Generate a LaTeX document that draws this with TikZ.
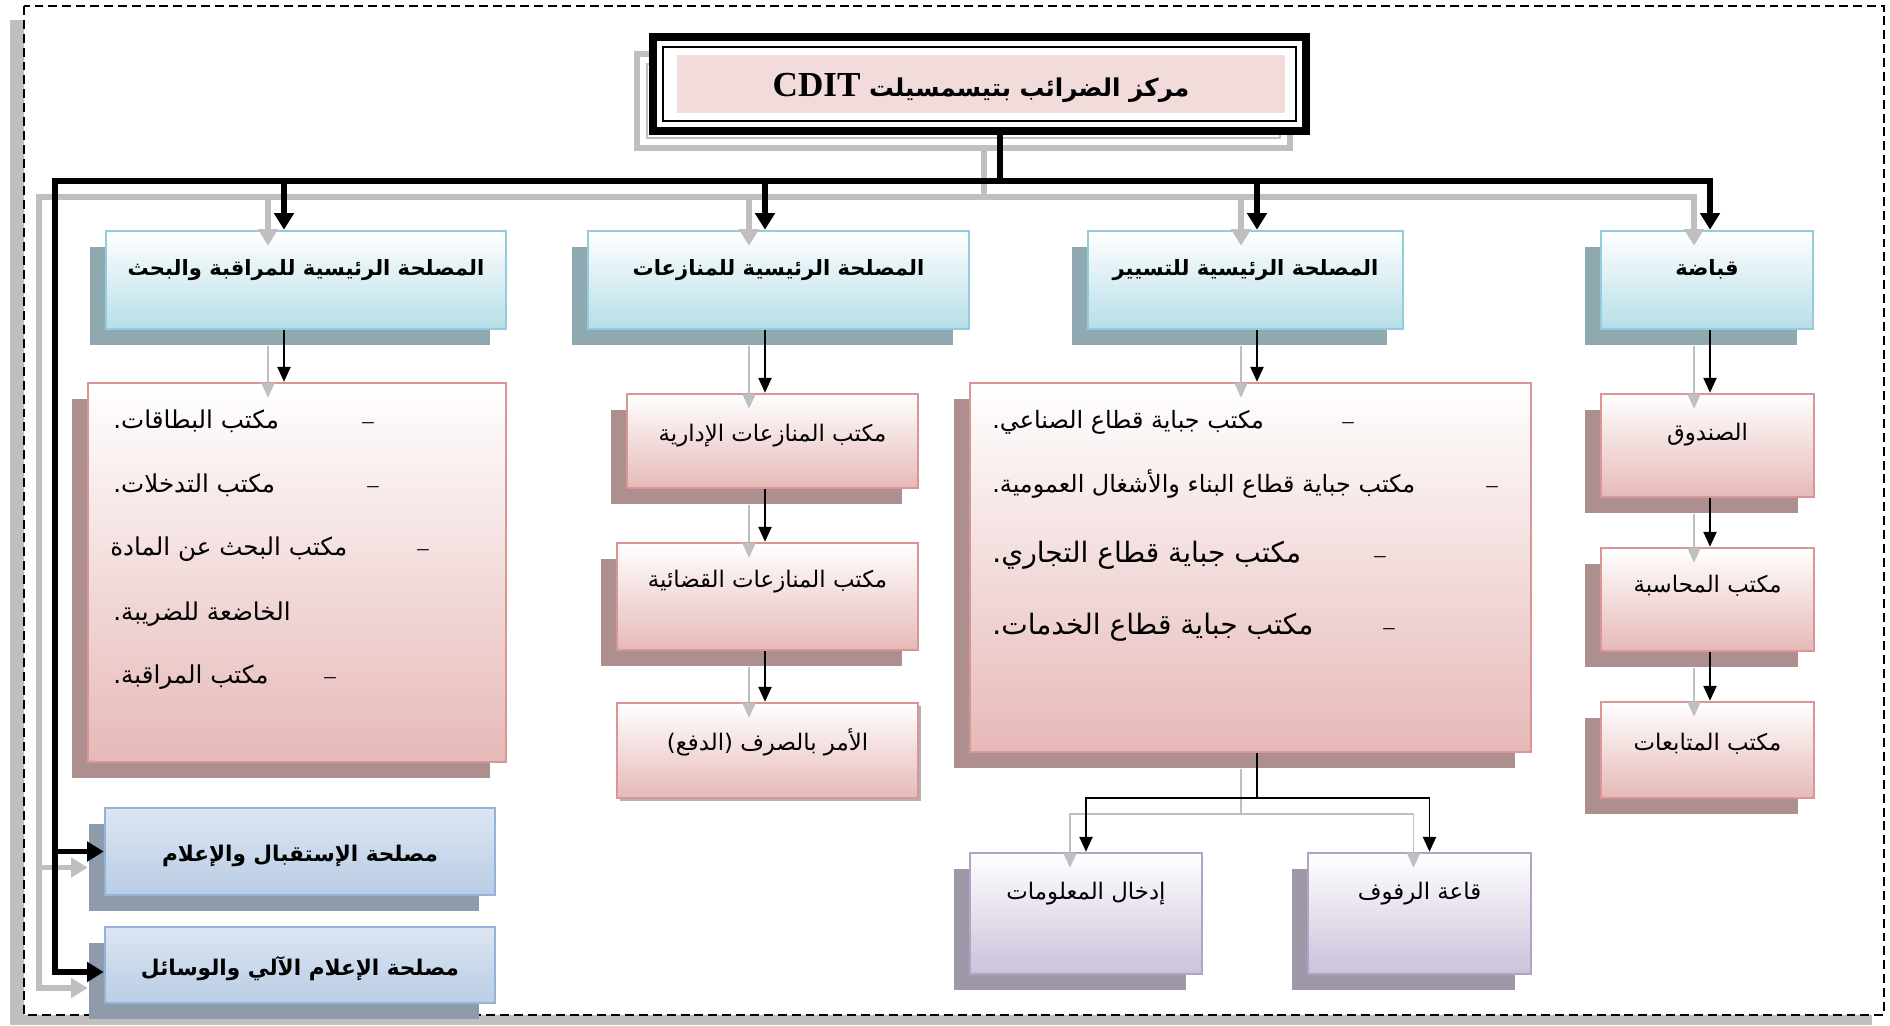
\documentclass[tikz,border=0pt]{standalone}
\usepackage{fontspec}
\setmainfont{Liberation Serif}
\newfontfamily\arabicfont[Script=Arabic]{DejaVu Sans}
\TeXXeTstate=1
\usepackage{tikz}
\usetikzlibrary{arrows.meta,shadows}
\definecolor{lvlborder}{HTML}{93CDDD}
\definecolor{lvlbottom}{HTML}{B7DEE8}
\definecolor{lvlshadow}{HTML}{8FA9B0}
\definecolor{pkborder}{HTML}{D99694}
\definecolor{pkbottom}{HTML}{E6B9B8}
\definecolor{pkshadow}{HTML}{AD8F8F}
\definecolor{prborder}{HTML}{B3A2C7}
\definecolor{prbottom}{HTML}{CCC1DA}
\definecolor{prshadow}{HTML}{9E98A8}
\definecolor{svborder}{HTML}{95B3D7}
\definecolor{svtop}{HTML}{DCE6F2}
\definecolor{svbottom}{HTML}{B9CDE5}
\definecolor{svshadow}{HTML}{8E9BAB}
\definecolor{connshadow}{HTML}{BFBFBF}
\definecolor{titlepink}{HTML}{F2DCDB}
\tikzstyle{titlebox} = [fill=titlepink, inner sep=0pt, minimum width=12.16cm, minimum height=1.16cm,
  text height=0.64cm, text depth=0.16cm, font=\arabicfont\bfseries\fontsize{14}{17}\selectfont]
\tikzstyle{headbox} = [draw=lvlborder, line width=1.5pt, top color=white, bottom color=lvlbottom,
  inner sep=0pt, text height=0.4cm, text depth=0.6cm, font=\arabicfont\bfseries\fontsize{12}{14}\selectfont,
  drop shadow={shadow xshift=-0.32cm,shadow yshift=-0.32cm,fill=lvlshadow,opacity=1}]
\tikzstyle{officeflat} = [draw=pkborder, line width=1.5pt, top color=white, bottom color=pkbottom,
  inner sep=0pt, text height=0.4cm, text depth=0.4cm, font=\arabicfont\fontsize{13}{15}\selectfont]
\tikzstyle{officebox} = [officeflat,
  drop shadow={shadow xshift=-0.32cm,shadow yshift=-0.32cm,fill=pkshadow,opacity=1}]
\tikzstyle{entrybox} = [draw=prborder, line width=1.5pt, top color=white, bottom color=prbottom,
  inner sep=0pt, text height=0.4cm, text depth=0.98cm, font=\arabicfont\fontsize{13}{15}\selectfont,
  drop shadow={shadow xshift=-0.32cm,shadow yshift=-0.32cm,fill=prshadow,opacity=1}]
\tikzstyle{servbox} = [draw=svborder, line width=1.5pt, top color=svtop, bottom color=svbottom,
  inner sep=0pt, text height=0.8cm, text depth=0.4cm, font=\arabicfont\bfseries\fontsize{12.3}{15}\selectfont,
  drop shadow={shadow xshift=-0.32cm,shadow yshift=-0.32cm,fill=svshadow,opacity=1}]
\tikzstyle{entry} = [anchor=base west, inner sep=0pt]
\tikzstyle{bullet} = [anchor=base, inner sep=0pt, font=\fontsize{13}{15}\selectfont]
\tikzstyle{trunk} = [line width=3.2pt]
\tikzstyle{trunkarrow} = [line width=3.2pt,->,>={Triangle[width=11pt,length=9.5pt]}]
\tikzstyle{twig} = [line width=1.1pt]
\tikzstyle{twigarrow} = [line width=1.1pt,->,>={Triangle[width=7.5pt,length=8.5pt]}]

\begin{document}
\begin{tikzpicture}[x=0.02cm,y=-0.02cm]
\useasboundingbox (0,0) rectangle (1890,1025);

% dashed frame and its shadow
\fill[connshadow] (10,20) rectangle (1872,1025);
\draw[line width=1.5pt, dash pattern=on 5.1pt off 2.8pt, fill=white] (24,6) rectangle (1884,1015);

% title with double border
\draw[connshadow, line width=3.4pt] (637,54) rectangle (1290,148);
\draw[connshadow, line width=1pt] (647,64) rectangle (1280,138);
\draw[line width=4.5pt, fill=white] (653,37) rectangle (1306,131);
\draw[line width=1.2pt] (663,47) rectangle (1296,121);
\node[titlebox] (title) at (981,84) {\beginR مركز الضرائب بتيسمسيلت {\rmfamily\fontsize{20}{24}\selectfont\beginL CDIT\endL}\endR};

% main services
\node[headbox, minimum width=8cm, minimum height=1.96cm] (A) at (306,280) {\beginR المصلحة الرئيسية للمراقبة والبحث\endR};
\node[headbox, minimum width=7.62cm, minimum height=1.96cm] (B) at (778.5,280) {\beginR المصلحة الرئيسية للمنازعات\endR};
\node[headbox, minimum width=6.3cm, minimum height=1.96cm] (C) at (1245.5,280) {\beginR المصلحة الرئيسية للتسيير\endR};
\node[headbox, minimum width=4.24cm, minimum height=1.96cm] (D) at (1707,280) {\beginR قباضة\endR};

% offices
\node[officebox, minimum width=8.36cm, minimum height=7.58cm] (Alist) at (297,572.5) {};
\node[officebox, minimum width=5.82cm, minimum height=1.88cm] (B1) at (772.5,441) {\beginR مكتب المنازعات الإدارية\endR};
\node[officebox, minimum width=6.02cm, minimum height=2.14cm, text depth=0.78cm] (B2) at (767.5,596.5) {\beginR مكتب المنازعات القضائية\endR};
\node[officeflat, minimum width=6.02cm, minimum height=1.9cm,
  drop shadow={shadow xshift=0.06cm,shadow yshift=-0.06cm,fill=gray!60,opacity=1}] (B3) at (767.5,750.5) {\beginR الأمر بالصرف (الدفع)\endR};
\node[officebox, minimum width=11.22cm, minimum height=7.38cm] (Clist) at (1250.5,567.5) {};
\node[officebox, minimum width=4.26cm, minimum height=2.06cm, text depth=0.62cm] (D1) at (1707.5,445.5) {\beginR الصندوق\endR};
\node[officebox, minimum width=4.26cm, minimum height=2.06cm, text depth=0.7cm] (D2) at (1707.5,599.5) {\beginR مكتب المحاسبة\endR};
\node[officebox, minimum width=4.26cm, minimum height=1.92cm] (D3) at (1707.5,750) {\beginR مكتب المتابعات\endR};
\node[entrybox, minimum width=4.64cm, minimum height=2.42cm] (P1) at (1086,913.5) {\beginR إدخال المعلومات\endR};
\node[entrybox, minimum width=4.46cm, minimum height=2.42cm] (P2) at (1419.5,913.5) {\beginR قاعة الرفوف\endR};
\node[servbox, minimum width=7.8cm, minimum height=1.74cm] (E1) at (300,851.5) {\beginR مصلحة الإستقبال والإعلام\endR};
\node[servbox, minimum width=7.8cm, minimum height=1.52cm] (E2) at (300,965) {\beginR مصلحة الإعلام الآلي والوسائل\endR};

% lists
\foreach \t/\x/\y/\dx [count=\i] in {{مكتب البطاقات.}/113/428/368, {مكتب التدخلات.}/113/492/373,
    {مكتب البحث عن المادة}/110/555/423, {مكتب المراقبة.}/113/683/330} {
  \node[entry, font=\arabicfont\fontsize{14}{16}\selectfont] (a\i) at (\x,\y) {\beginR\t\endR};
  \node[bullet] (ad\i) at (\dx,\y) {–};
}
\node[entry, font=\arabicfont\fontsize{14}{16}\selectfont] (a5) at (113,620) {\beginR الخاضعة للضريبة.\endR};
\foreach \t/\y/\dx/\fs [count=\i] in {{مكتب جباية قطاع الصناعي.}/428/1348/13.6, {مكتب جباية قطاع البناء والأشغال العمومية.}/492/1492/13.6,
    {مكتب جباية قطاع التجاري.}/562/1380/16, {مكتب جباية قطاع الخدمات.}/634/1389/16} {
  \node[entry, font=\arabicfont\fontsize{\fs}{18}\selectfont] (c\i) at (992,\y) {\beginR\t\endR};
  \node[bullet] (cd\i) at (\dx,\y) {–};
}

% connectors, first their shadow then black
\coordinate (tframe) at (1000,131);
\coordinate (hub) at (1000,181);
\coordinate (lft) at (55,181);
\coordinate (colA) at (284,0);
\coordinate (colB) at (765,0);
\coordinate (colC) at (1257,0);
\coordinate (colD) at (1710,0);
\coordinate (fork) at (1257,798);
\foreach \s/\c in {-0.32cm/connshadow, 0cm/black} {
\begin{scope}[transform canvas={xshift=\s, yshift=\s}, color=\c]
  \draw[trunk] (tframe) -- (hub);
  \draw[trunkarrow] (hub) -| (A.north -| colA);
  \draw[trunkarrow] (hub) -| (B.north -| colB);
  \draw[trunkarrow] (hub) -| (C.north -| colC);
  \draw[trunkarrow] (hub) -| (D.north -| colD);
  \draw[trunkarrow] (hub) -- (lft) |- ([shift={(0,7)}]E2.west);
  \draw[trunkarrow] (lft) |- (E1.west);
  \draw[twigarrow] (A.south -| colA) -- (Alist.north -| colA);
  \draw[twigarrow] (B.south -| colB) -- (B1.north -| colB);
  \draw[twigarrow] (B1.south -| colB) -- (B2.north -| colB);
  \draw[twigarrow] (B2.south -| colB) -- (B3.north -| colB);
  \draw[twigarrow] (C.south -| colC) -- (Clist.north -| colC);
  \draw[twig] (Clist.south -| colC) -- (fork);
  \draw[twigarrow] (fork) -| (P1.north);
  \draw[twigarrow] (fork) -| ([shift={(10,0)}]P2.north);
  \draw[twigarrow] (D.south -| colD) -- (D1.north -| colD);
  \draw[twigarrow] (D1.south -| colD) -- (D2.north -| colD);
  \draw[twigarrow] (D2.south -| colD) -- (D3.north -| colD);
\end{scope}
}
\end{tikzpicture}
\end{document}
